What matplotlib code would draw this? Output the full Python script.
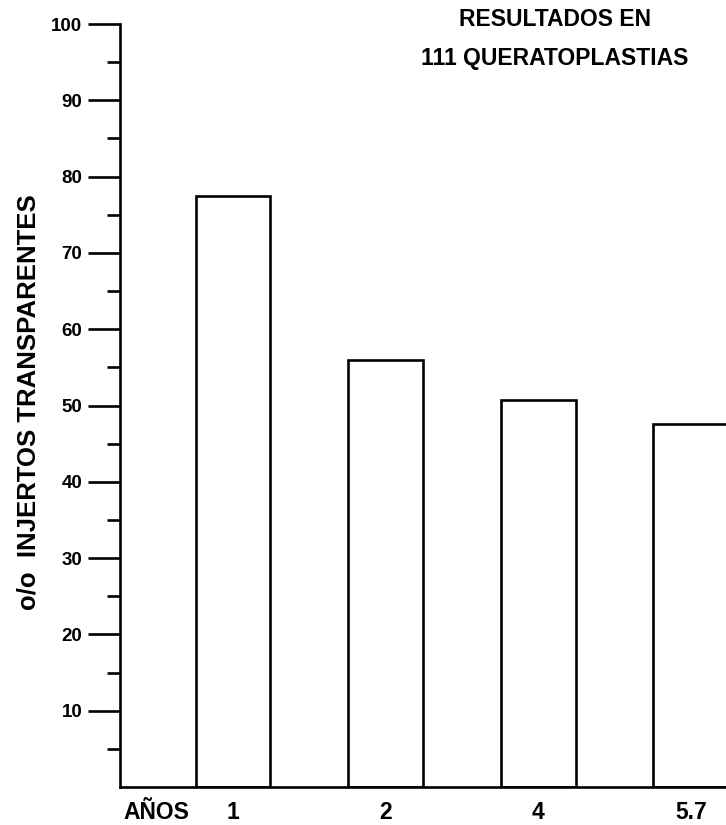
import matplotlib.pyplot as plt

# data
years = ["1", "2", "4", "5.7"]
pct_clear = [77.5, 56.0, 50.7, 47.6]

plt.rcParams['font.family'] = ['Liberation Sans', 'DejaVu Sans']
plt.rcParams['font.weight'] = 'bold'

fig = plt.figure(figsize=(7.26, 8.25), dpi=100)
ax = fig.add_axes([120 / 726, 1 - 787 / 825, 1 - 120 / 726, (787 - 24) / 825])

pos = list(range(len(years)))
ax.bar(pos, pct_clear, width=0.49, color='white', edgecolor='black',
       linewidth=1.9)

ax.set_ylim(0, 100)
ax.set_xlim(-0.74, 3.23)

ax.spines['top'].set_visible(False)
ax.spines['right'].set_visible(False)
ax.spines['left'].set_linewidth(1.9)
ax.spines['bottom'].set_linewidth(1.9)

ax.set_yticks(range(10, 101, 10))
ax.set_yticks(range(5, 100, 10), minor=True)
ax.tick_params(axis='y', which='major', length=23, width=1.9, pad=4,
               labelsize=13.5)
ax.tick_params(axis='y', which='minor', length=9.5, width=1.9)

# "AÑOS" sits in the tick label row, left of the first bar
ax.set_xticks([-0.5] + pos)
ax.set_xticklabels(["AÑOS"] + years)
ax.tick_params(axis='x', length=0, pad=10, labelsize=16.5)

ax.set_ylabel("o/o  INJERTOS TRANSPARENTES", fontsize=18.5, fontweight='bold')
ax.yaxis.set_label_coords(-0.132, 0.505)

fig.text(555 / 726, 1 - 8 / 825, "RESULTADOS EN\n111 QUERATOPLASTIAS",
         ha='center', va='top', fontsize=16.5, fontweight='bold',
         linespacing=1.9)

fig.savefig("out.png", dpi=100)
